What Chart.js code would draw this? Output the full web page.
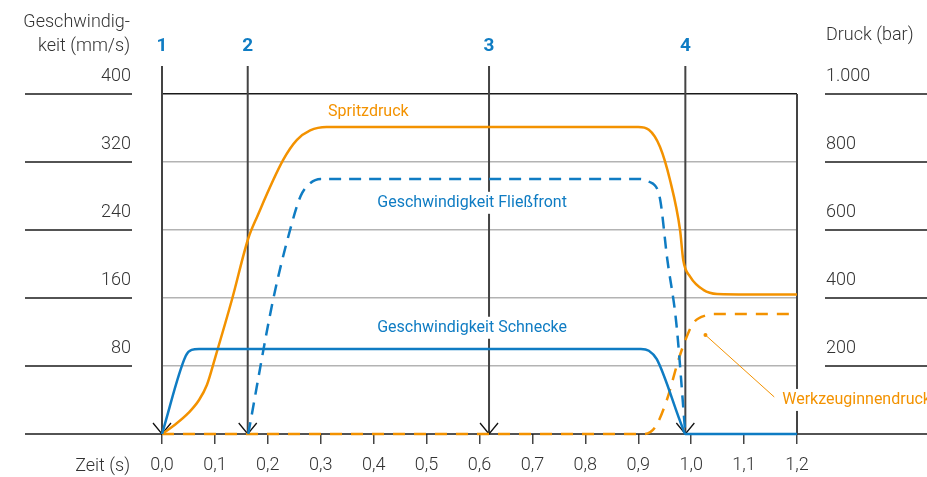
<!DOCTYPE html>
<html>
<head>
<meta charset="utf-8">
<script src="https://cdn.jsdelivr.net/npm/chart.js@4.4.1/dist/chart.umd.min.js"></script>
<style>
  html, body { margin: 0; padding: 0; background: #fff; }
  #wrap { width: 927px; height: 477px; }
</style>
</head>
<body>
<div id="wrap"><canvas id="chart" width="927" height="477"></canvas></div>
<script>
// Achsen
const timeTicks = [0, 0.1, 0.2, 0.3, 0.4, 0.5, 0.6, 0.7, 0.8, 0.9, 1.0, 1.1, 1.2];
const speedTicks = [80, 160, 240, 320, 400];
const pressureTicks = [200, 400, 600, 800, 1000];
const pressureLabels = ['200', '400', '600', '800', '1.000'];

// Geschwindigkeit Schnecke (mm/s)
const screwT = [0, 0.045, 0.056, 0.07, 0.905, 0.92, 0.935, 0.984, 0.989, 1.2];
const screwV = [0, 92, 99, 100, 100, 98, 88, 7, 0, 0];

// Geschwindigkeit Fließfront (mm/s)
const frontT = [0.163, 0.21, 0.242, 0.262, 0.28, 0.30, 0.90, 0.92, 0.94, 0.955, 0.972, 0.989];
const frontV = [0, 158, 240, 280, 295, 300, 300, 297, 280, 205, 130, 0];

// Spritzdruck (bar)
const injT = [0, 0.025, 0.05, 0.07, 0.085, 0.1, 0.132, 0.163, 0.18, 0.229, 0.255, 0.28, 0.311, 0.90, 0.92, 0.941, 0.96, 0.979, 0.985, 0.998, 1.023, 1.049, 1.2];
const injP = [0, 28, 62, 100, 145, 222, 394, 575, 640, 806, 865, 893, 903, 903, 895, 845, 747, 600, 512, 463, 424, 412, 410];

// Werkzeuginnendruck (bar)
const cavT = [0, 0.91, 0.932, 0.954, 0.976, 0.989, 1.004, 1.03, 1.045, 1.2];
const cavP = [0, 0, 20, 100, 218, 276, 326, 350, 353, 353];

// Zeitpunkte 1-4
const markerTimes = [0, 0.162, 0.618, 0.989];
const markerLabels = ['1', '2', '3', '4'];

const ORANGE = '#f39200';
const BLUE = '#0f7cc3';
const TEXT = '#333333';
const FONT = 'Roboto';

function toPoints(xs, ys) {
  return xs.map((t, i) => ({ x: t, y: ys[i] }));
}

function line(ctx, x1, y1, x2, y2) {
  ctx.beginPath();
  ctx.moveTo(x1, y1);
  ctx.lineTo(x2, y2);
  ctx.stroke();
}

function boxedText(ctx, text, x, y, align) {
  const w = ctx.measureText(text).width;
  const left = align === 'left' ? x : x - w / 2;
  ctx.fillStyle = '#fff';
  ctx.fillRect(left - 3, y - 11, w + 6, 22);
  ctx.fillStyle = ctx.strokeStyle;
  ctx.textAlign = align;
  ctx.fillText(text, x, y);
}

// Hilfslinien, Markierungen und Beschriftungen
const decorPlugin = {
  id: 'decor',
  beforeDatasetsDraw(chart) {
    const { ctx, chartArea: a, scales: { x, y, y2 } } = chart;
    ctx.save();
    ctx.lineCap = 'butt';
    // Nulllinie über die volle Breite
    ctx.strokeStyle = '#1a1a1a';
    ctx.lineWidth = 1.5;
    const y0 = y.getPixelForValue(0);
    line(ctx, 25, y0, 927, y0);
    speedTicks.forEach(v => {
      const py = y.getPixelForValue(v);
      line(ctx, 25, py, 132, py);
    });
    pressureTicks.forEach(v => {
      const py = y2.getPixelForValue(v);
      line(ctx, 825, py, 927, py);
    });
    // rechter Rahmen
    ctx.strokeStyle = '#444';
    ctx.lineWidth = 2;
    const xr = x.getPixelForValue(1.2);
    line(ctx, xr, a.top, xr, a.bottom);
    // Zeitpunkte 1-4
    markerTimes.forEach((t, i) => {
      const px = x.getPixelForValue(t);
      ctx.strokeStyle = '#444';
      ctx.lineWidth = 2;
      line(ctx, px, 66, px, y0);
      ctx.strokeStyle = '#111';
      ctx.lineWidth = 1.3;
      ctx.beginPath();
      ctx.moveTo(px - 9, y0 - 11);
      ctx.lineTo(px, y0);
      ctx.lineTo(px + 9, y0 - 11);
      ctx.stroke();
      ctx.fillStyle = BLUE;
      ctx.font = 'bold 19px ' + FONT;
      ctx.textAlign = 'center';
      ctx.textBaseline = 'middle';
      ctx.fillText(markerLabels[i], px, 46);
    });
    ctx.restore();
  },
  afterDatasetsDraw(chart) {
    const { ctx, scales: { x, y, y2 } } = chart;
    ctx.save();
    ctx.textBaseline = 'middle';
    ctx.font = '16px ' + FONT;
    // Kurvenbeschriftungen
    ctx.strokeStyle = ORANGE;
    boxedText(ctx, 'Spritzdruck', x.getPixelForValue(0.39), y.getPixelForValue(379), 'center');
    ctx.strokeStyle = BLUE;
    boxedText(ctx, 'Geschwindigkeit Fließfront', x.getPixelForValue(0.586), y.getPixelForValue(272), 'center');
    boxedText(ctx, 'Geschwindigkeit Schnecke', x.getPixelForValue(0.586), y.getPixelForValue(125), 'center');
    // Werkzeuginnendruck mit Hinweislinie
    const ax = x.getPixelForValue(1.027), ay = y2.getPixelForValue(291);
    const ex = x.getPixelForValue(1.157), ey = y2.getPixelForValue(109);
    ctx.strokeStyle = ORANGE;
    ctx.lineWidth = 1;
    line(ctx, ax, ay, ex, ey);
    ctx.fillStyle = ORANGE;
    ctx.beginPath();
    ctx.arc(ax, ay, 2, 0, Math.PI * 2);
    ctx.fill();
    boxedText(ctx, 'Werkzeuginnendruck', ex + 8, ey + 3, 'left');
    ctx.restore();
  },
  afterDraw(chart) {
    const { ctx } = chart;
    ctx.save();
    ctx.fillStyle = TEXT;
    ctx.font = '300 18px ' + FONT;
    ctx.textBaseline = 'middle';
    ctx.textAlign = 'right';
    ctx.fillText('Geschwindig-', 130, 22);
    ctx.fillText('keit (mm/s)', 130, 46);
    ctx.fillText('Zeit (s)', 130, 466);
    ctx.textAlign = 'left';
    ctx.fillText('Druck (bar)', 826, 35);
    ctx.restore();
  }
};

const tickFont = { family: FONT, size: 18, weight: '300' };

new Chart(document.getElementById('chart'), {
  type: 'line',
  data: {
    datasets: [
      {
        label: 'Geschwindigkeit Schnecke',
        data: toPoints(screwT, screwV),
        yAxisID: 'y',
        borderColor: BLUE,
        borderWidth: 2.5
      },
      {
        label: 'Geschwindigkeit Fließfront',
        data: toPoints(frontT, frontV),
        yAxisID: 'y',
        borderColor: BLUE,
        borderWidth: 2.5,
        borderDash: [12, 8]
      },
      {
        label: 'Spritzdruck',
        data: toPoints(injT, injP),
        yAxisID: 'y2',
        borderColor: ORANGE,
        borderWidth: 2.5
      },
      {
        label: 'Werkzeuginnendruck',
        data: toPoints(cavT, cavP),
        yAxisID: 'y2',
        borderColor: ORANGE,
        borderWidth: 2.5,
        borderDash: [12, 9]
      }
    ]
  },
  options: {
    responsive: false,
    animation: false,
    devicePixelRatio: 1,
    layout: { padding: { top: 94, left: 0, right: 0, bottom: 0 } },
    elements: {
      point: { radius: 0 },
      line: { cubicInterpolationMode: 'monotone', fill: false }
    },
    datasets: { line: { clip: 6 } },
    plugins: { legend: { display: false }, tooltip: { enabled: false } },
    scales: {
      x: {
        type: 'linear',
        min: 0,
        max: 1.2,
        afterFit: s => { s.height = 43; },
        afterBuildTicks: s => { s.ticks = timeTicks.map(v => ({ value: v })); },
        ticks: {
          font: tickFont,
          color: TEXT,
          padding: 11,
          maxRotation: 0,
          autoSkip: false,
          callback: v => v.toFixed(1).replace('.', ',')
        },
        grid: { drawOnChartArea: false, drawTicks: true, tickLength: 10, color: '#444', lineWidth: 1.5 },
        border: { display: false }
      },
      y: {
        position: 'left',
        min: 0,
        max: 400,
        afterFit: s => { s.width = 162; },
        afterBuildTicks: s => { s.ticks = [0].concat(speedTicks).map(v => ({ value: v })); },
        ticks: {
          font: tickFont,
          color: TEXT,
          padding: 31,
          labelOffset: -18,
          callback: v => (v === 0 ? '' : String(v))
        },
        grid: {
          drawTicks: false,
          lineWidth: 1.5,
          color: c => (c.tick && c.tick.value === 400 ? '#1a1a1a' : c.tick && c.tick.value === 0 ? 'rgba(0,0,0,0)' : '#b3b3b3')
        },
        border: { display: false }
      },
      y2: {
        position: 'right',
        min: 0,
        max: 1000,
        afterFit: s => { s.width = 130; },
        afterBuildTicks: s => { s.ticks = [0].concat(pressureTicks).map(v => ({ value: v })); },
        ticks: {
          font: tickFont,
          color: TEXT,
          padding: 29,
          labelOffset: -18,
          callback: v => (v === 0 ? '' : pressureLabels[pressureTicks.indexOf(v)])
        },
        grid: { drawOnChartArea: false, drawTicks: false },
        border: { display: false }
      }
    }
  },
  plugins: [decorPlugin]
});
</script>
</body>
</html>
